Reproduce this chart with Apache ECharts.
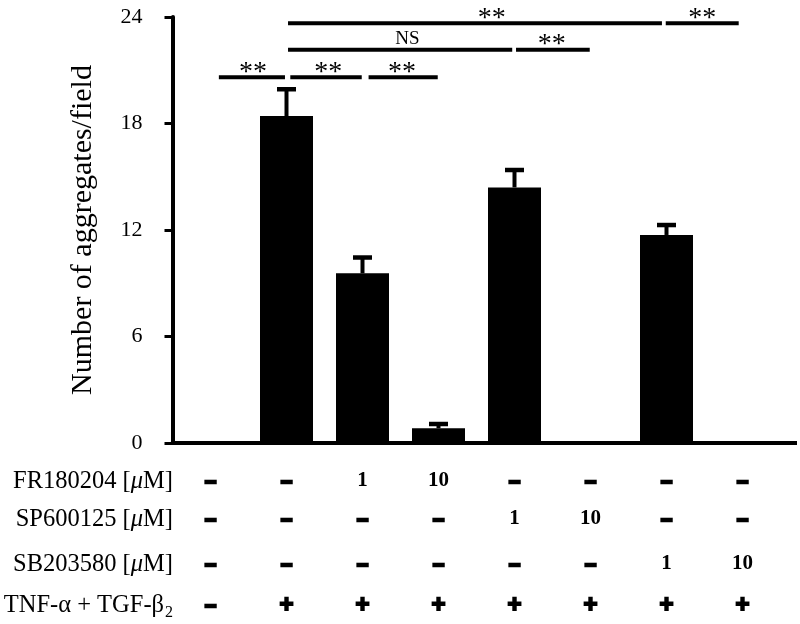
<!DOCTYPE html>
<html>
<head>
<meta charset="utf-8">
<script src="https://cdn.jsdelivr.net/npm/echarts@6/dist/echarts.min.js"></script>
<style>html,body{margin:0;padding:0;background:#fff}#c{width:800px;height:624px}</style>
</head>
<body>
<div id="c"></div>
<script>
// ---- data ----
const categories = ['G1','G2','G3','G4','G5','G6','G7','G8'];
const means = [0, 18.42, 9.56, 0.83, 14.40, 0, 11.72, 0];
const errs  = [0, 1.51, 0.89, 0.24, 0.98, 0, 0.56, 0];
const yTicks = [0, 6, 12, 18, 24];
const rowFR  = ['–','–','1','10','–','–','–','–'];
const rowSP  = ['–','–','–','–','1','10','–','–'];
const rowSB  = ['–','–','–','–','–','–','1','10'];
const rowTNF = ['–','+','+','+','+','+','+','+'];
// significance brackets: [xStart, xEnd, y, labelX, label]  (x in category index units)
const sigBrackets = [
  [0.11, 0.98, 20.60, 0.56, '**'],
  [1.05, 1.99, 20.60, 1.55, '**'],
  [2.08, 2.99, 20.60, 2.52, '**'],
  [1.02, 3.97, 22.15, 2.59, 'NS'],
  [4.02, 4.99, 22.15, 4.49, '**'],
  [1.02, 5.94, 23.65, 3.70, '**'],
  [5.99, 6.95, 23.65, 6.47, '**']
];

// ---- chart ----
const SERIF = '"Liberation Serif","Times New Roman",serif';
const SANS = '"Liberation Sans",Arial,sans-serif';
const chart = echarts.init(document.getElementById('c'), null, {renderer: 'canvas'});

const rows = [rowFR, rowSP, rowSB, rowTNF];
const rowOffsets = [38, 76, 121, 162];
const cellRich = {
  n: {fontFamily: SERIF, fontWeight: 'bold', fontSize: 21, color: '#000'},
  d: {fontFamily: SANS, fontWeight: 'bold', fontSize: 20, color: '#000', textBorderColor: '#000', textBorderWidth: 2.5},
  p: {fontFamily: SANS, fontWeight: 'bold', fontSize: 24, color: '#000', textBorderColor: '#000', textBorderWidth: 1.8}
};
const tableAxes = rows.map((r, k) => ({
  type: 'category', gridIndex: 0, data: r, position: 'bottom', offset: rowOffsets[k],
  axisLine: {show: false}, axisTick: {show: false}, splitLine: {show: false},
  axisLabel: {
    interval: 0, margin: 0, verticalAlign: 'middle',
    formatter: v => v === '–' ? '{d|–}' : (v === '+' ? '{p|+}' : '{n|' + v + '}'),
    rich: cellRich
  }
}));

const labRich = {
  a: {fontFamily: SERIF, fontSize: 24.5, fill: '#000'},
  i: {fontFamily: SERIF, fontSize: 24.5, fontStyle: 'italic', fill: '#000'}
};

const option = {
  animation: false,
  backgroundColor: '#fff',
  grid: {left: 172.5, right: 19.5, top: 17, bottom: 181},
  xAxis: [
    {type: 'category', data: categories, axisLine: {onZero: false, lineStyle: {color: '#000', width: 4}},
     axisTick: {show: false}, axisLabel: {show: false}}
  ].concat(tableAxes).concat([
    {type: 'value', gridIndex: 0, min: -0.5, max: 7.5, show: false}
  ]),
  yAxis: {
    type: 'value', min: 0, max: 24, interval: 6,
    name: 'Number of aggregates/field', nameLocation: 'middle', nameGap: 74,
    nameTextStyle: {fontFamily: SERIF, fontSize: 30, color: '#000'},
    axisLine: {show: true, onZero: false, lineStyle: {color: '#000', width: 4}},
    axisTick: {show: true, inside: false, length: 8, lineStyle: {color: '#000', width: 3}},
    axisLabel: {fontFamily: SERIF, fontSize: 22, color: '#000', margin: 30,
      formatter: v => yTicks.indexOf(v) >= 0 ? String(v) : ''},
    splitLine: {show: false}
  },
  graphic: [
    {type: 'line', shape: {x1: 780, y1: 443, x2: 797, y2: 443}, style: {stroke: '#000', lineWidth: 4}},
    {type: 'text', x: 173, y: 482, style: {text: '{a|FR180204 [}{i|μ}{a|M]}', align: 'right', verticalAlign: 'middle', rich: labRich}},
    {type: 'text', x: 173, y: 520, style: {text: '{a|SP600125 [}{i|μ}{a|M]}', align: 'right', verticalAlign: 'middle', rich: labRich}},
    {type: 'text', x: 173, y: 565, style: {text: '{a|SB203580 [}{i|μ}{a|M]}', align: 'right', verticalAlign: 'middle', rich: labRich}},
    {type: 'text', x: 173, y: 606, style: {text: '{a|TNF-α + TGF-β}{s|2}', align: 'right', verticalAlign: 'middle',
      rich: {a: {fontFamily: SERIF, fontSize: 24.5, fill: '#000', lineHeight: 29, verticalAlign: 'middle'},
             s: {fontFamily: SERIF, fontSize: 16, fill: '#000', lineHeight: 16, width: 9, verticalAlign: 'bottom'}}}}
  ],
  series: [
    {
      type: 'bar', xAxisIndex: 0, yAxisIndex: 0, data: means, barWidth: 53,
      itemStyle: {color: '#000'}, silent: true
    },
    {
      type: 'custom', xAxisIndex: 0, yAxisIndex: 0, silent: true,
      data: means.map((m, i) => [i, m, errs[i]]),
      renderItem: function (params, api) {
        const i = api.value(0), m = api.value(1), e = api.value(2);
        if (!e) return null;
        const p0 = api.coord([i, m]);
        const p1 = api.coord([i, m + e]);
        return {type: 'group', children: [
          {type: 'line', shape: {x1: p0[0], y1: p0[1], x2: p1[0], y2: p1[1]}, style: {stroke: '#000', lineWidth: 4}},
          {type: 'line', shape: {x1: p1[0] - 9.5, y1: p1[1], x2: p1[0] + 9.5, y2: p1[1]}, style: {stroke: '#000', lineWidth: 4.5}}
        ]};
      }
    },
    {
      type: 'custom', xAxisIndex: 5, yAxisIndex: 0, silent: true, clip: false,
      data: sigBrackets.map(b => [b[0], b[1], b[2], b[3]]),
      renderItem: function (params, api) {
        const b = sigBrackets[params.dataIndex];
        const s = api.coord([b[0], b[2]]);
        const e = api.coord([b[1], b[2]]);
        const l = api.coord([b[3], b[2]]);
        const isNS = b[4] === 'NS';
        return {type: 'group', children: [
          {type: 'line', shape: {x1: s[0], y1: s[1], x2: e[0], y2: e[1]}, style: {stroke: '#000', lineWidth: 4}},
          {type: 'text', x: l[0], y: l[1] - (isNS ? 11 : 5),
           style: {text: b[4], align: 'center', verticalAlign: 'middle', fill: '#000',
             font: (isNS ? '19px ' : '28px ') + SERIF}}
        ]};
      }
    }
  ]
};
chart.setOption(option);
</script>
</body>
</html>
